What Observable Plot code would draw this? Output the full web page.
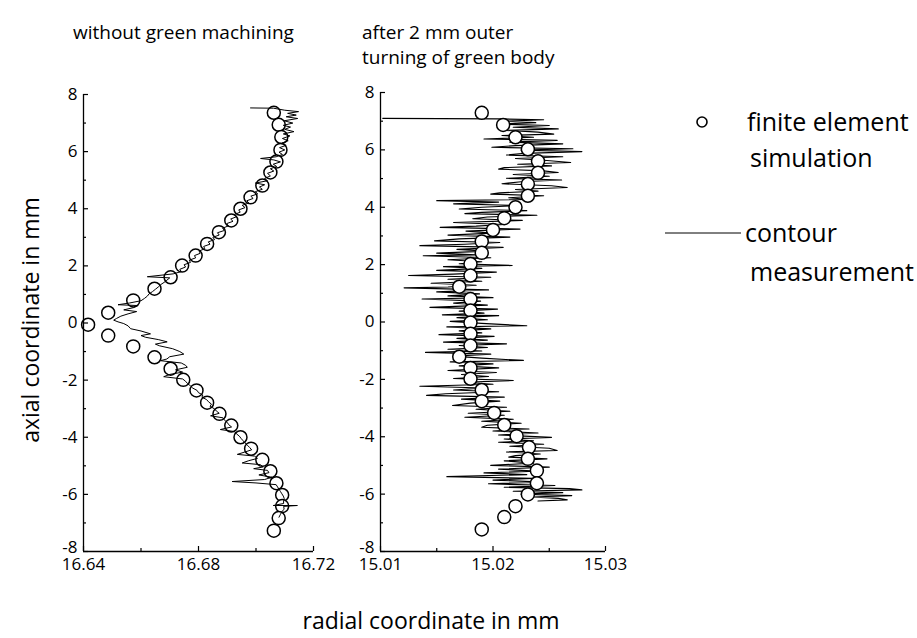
<!DOCTYPE html>
<html><head><meta charset="utf-8">
<script src="https://cdn.jsdelivr.net/npm/d3@7"></script>
<script src="https://cdn.jsdelivr.net/npm/@observablehq/plot@0.6"></script>
<style>
body{margin:0;background:#fff;}
#chart{position:relative;width:917px;height:638px;font-family:"Open Sans",sans-serif;color:#000;overflow:hidden;}
#chart svg.panel{position:absolute;left:0;top:0;}
.t{position:absolute;white-space:nowrap;line-height:1.2;}
</style></head><body><div id="chart"></div>
<script>
// ---------- data (y = axial coordinate in mm, x = radial coordinate in mm) ----------
const panelTitles = ["without green machining", "after 2 mm outer", "turning of green body"];
const yTickLabels = [-8, -6, -4, -2, 0, 2, 4, 6, 8];
const yMinorTicks = [-7, -5, -3, -1, 1, 3, 5, 7];
const leftXTicks = [16.64, 16.68, 16.72];
const leftXMinor = [16.66, 16.70];
const rightXTicks = [15.01, 15.02, 15.03];
const rightXMinor = [15.015, 15.025];

// finite element simulation, without green machining: [y, x]
const leftSimulation = [
  [7.36,16.7062],[6.94,16.7079],[6.51,16.7088],[6.06,16.7085],[5.65,16.7071],[5.27,16.7050],
  [4.81,16.7022],[4.40,16.6981],[4.00,16.6946],[3.59,16.6914],[3.18,16.6871],[2.77,16.6830],
  [2.36,16.6790],[2.01,16.6743],[1.60,16.6703],[1.20,16.6647],[0.79,16.6573],[0.36,16.6486],
  [-0.06,16.6416],
  [-0.44,16.6486],[-0.82,16.6573],[-1.20,16.6647],[-1.60,16.6703],[-1.99,16.6747],[-2.36,16.6793],
  [-2.79,16.6830],[-3.18,16.6873],[-3.59,16.6914],[-4.00,16.6946],[-4.40,16.6983],[-4.79,16.7022],
  [-5.19,16.7050],[-5.61,16.7071],[-6.02,16.7091],[-6.41,16.7091],[-6.83,16.7079],[-7.27,16.7062]
];

// contour measurement, without green machining: [y, x]
const leftContour = [
  [7.53,16.6981],[7.52,16.7061],[7.45,16.7100],[7.40,16.7148],[7.34,16.7110],[7.28,16.7140],
  [7.22,16.7105],[7.16,16.7145],[7.08,16.7098],[7.00,16.7128],[6.92,16.7095],[6.86,16.7120],
  [6.78,16.7100],[6.70,16.7132],[6.62,16.7095],[6.55,16.7118],[6.46,16.7092],[6.38,16.7112],
  [6.30,16.7090],[6.22,16.7105],[6.14,16.7082],[6.06,16.7100],[5.98,16.7080],[5.90,16.7092],
  [5.82,16.7070],[5.76,16.7016],[5.71,16.7062],[5.64,16.7085],[5.56,16.7060],[5.48,16.7072],
  [5.40,16.7050],[5.32,16.7062],[5.24,16.7040],[5.15,16.7050],[5.06,16.7030],[4.98,16.7040],
  [4.90,16.6998],[4.84,16.7030],[4.76,16.7012],[4.68,16.7022],[4.60,16.6998],[4.52,16.7006],
  [4.44,16.6982],[4.36,16.6990],[4.28,16.6968],[4.20,16.6975],[4.12,16.6952],[4.04,16.6962],
  [3.96,16.6940],[3.88,16.6945],[3.80,16.6925],[3.72,16.6932],[3.64,16.6912],[3.56,16.6920],
  [3.48,16.6898],[3.40,16.6904],[3.32,16.6884],[3.24,16.6890],[3.16,16.6866],[3.08,16.6872],
  [3.00,16.6850],[2.92,16.6856],[2.84,16.6834],[2.76,16.6840],[2.68,16.6818],[2.60,16.6822],
  [2.52,16.6802],[2.44,16.6806],[2.36,16.6786],[2.28,16.6790],[2.20,16.6768],[2.12,16.6772],
  [2.04,16.6750],[1.96,16.6755],[1.88,16.6735],[1.80,16.6740],[1.72,16.6712],[1.62,16.6622],
  [1.58,16.6700],[1.50,16.6690],[1.42,16.6680],[1.34,16.6668],[1.26,16.6660],[1.18,16.6650],
  [1.10,16.6640],[1.02,16.6628],[0.94,16.6622],[0.86,16.6612],[0.78,16.6600],[0.70,16.6560],
  [0.64,16.6520],[0.61,16.6590],[0.54,16.6575],[0.46,16.6540],[0.40,16.6585],[0.32,16.6555],
  [0.24,16.6530],[0.16,16.6515],[0.10,16.6505],[0.04,16.6520],[-0.02,16.6540],[-0.10,16.6555],
  [-0.20,16.6564],[-0.28,16.6600],[-0.38,16.6633],[-0.44,16.6600],[-0.50,16.6616],[-0.58,16.6660],
  [-0.66,16.6691],[-0.74,16.6650],[-0.80,16.6665],[-0.90,16.6710],[-1.00,16.6735],[-1.09,16.6749],
  [-1.18,16.6700],[-1.26,16.6690],[-1.32,16.6668],[-1.40,16.6740],[-1.48,16.6755],[-1.55,16.6761],
  [-1.64,16.6720],[-1.72,16.6745],[-1.80,16.6700],[-1.88,16.6679],[-1.96,16.6745],[-2.04,16.6755],
  [-2.12,16.6762],[-2.20,16.6772],[-2.28,16.6780],[-2.36,16.6795],[-2.44,16.6800],[-2.52,16.6815],
  [-2.60,16.6812],[-2.68,16.6828],[-2.76,16.6835],[-2.84,16.6845],[-2.92,16.6840],[-3.00,16.6855],
  [-3.08,16.6862],[-3.16,16.6872],[-3.25,16.6842],[-3.32,16.6885],[-3.40,16.6890],[-3.48,16.6900],
  [-3.56,16.6905],[-3.64,16.6915],[-3.73,16.6876],[-3.80,16.6925],[-3.88,16.6932],[-3.96,16.6942],
  [-4.04,16.6948],[-4.12,16.6955],[-4.20,16.6962],[-4.28,16.6970],[-4.36,16.6978],[-4.44,16.6985],
  [-4.52,16.6960],[-4.60,16.6935],[-4.66,16.6995],[-4.74,16.7005],[-4.82,16.6975],[-4.90,16.6952],
  [-4.96,16.7015],[-5.04,16.7025],[-5.10,16.6992],[-5.16,16.7040],[-5.24,16.7045],[-5.32,16.7010],
  [-5.40,16.7055],[-5.48,16.7030],[-5.55,16.6917],[-5.60,16.7000],[-5.66,16.7070],[-5.74,16.7075],
  [-5.82,16.7080],[-5.90,16.7085],[-5.98,16.7090],[-6.06,16.7095],[-6.14,16.7098],[-6.22,16.7096],
  [-6.32,16.7096],[-6.39,16.7060],[-6.39,16.7144],[-6.42,16.7096],[-6.52,16.7098],[-6.60,16.7090],
  [-6.70,16.7085],[-6.80,16.7080]
];

// finite element simulation, after 2 mm outer turning: [y, x]
const rightSimulation = [
  [7.29,15.0190],[6.87,15.0209],[6.44,15.0220],[6.02,15.0231],[5.60,15.0240],[5.20,15.0240],
  [4.81,15.0231],[4.40,15.0231],[4.00,15.0220],[3.62,15.0210],[3.21,15.0200],[2.81,15.0190],
  [2.41,15.0190],[2.02,15.0180],[1.62,15.0180],[1.23,15.0170],[0.80,15.0180],[0.40,15.0180],
  [-0.02,15.0180],
  [-0.41,15.0180],[-0.82,15.0180],[-1.21,15.0170],[-1.60,15.0180],[-1.98,15.0180],[-2.37,15.0190],
  [-2.76,15.0190],[-3.17,15.0201],[-3.59,15.0210],[-3.98,15.0221],[-4.37,15.0232],[-4.77,15.0231],
  [-5.18,15.0239],[-5.62,15.0239],[-6.01,15.0231],[-6.42,15.0220],[-6.80,15.0210],[-7.23,15.0190]
];

// contour measurement, after 2 mm outer turning: [y, x]
const rightContour = [
  [7.10,15.0102],[7.08,15.0204],[7.05,15.0245],[7.00,15.0212],[6.95,15.0238],[6.90,15.0205],
  [6.85,15.0250],[6.79,15.0218],[6.73,15.0258],[6.68,15.0212],[6.62,15.0240],[6.55,15.0254],
  [6.50,15.0208],[6.44,15.0236],[6.38,15.0192],[6.33,15.0257],[6.27,15.0215],[6.21,15.0262],
  [6.15,15.0220],[6.09,15.0199],[6.04,15.0271],[5.99,15.0225],[5.94,15.0279],[5.88,15.0228],
  [5.82,15.0212],[5.76,15.0262],[5.70,15.0220],[5.63,15.0248],[5.56,15.0269],[5.50,15.0222],
  [5.44,15.0252],[5.38,15.0210],[5.33,15.0205],[5.27,15.0245],[5.21,15.0258],[5.14,15.0218],
  [5.08,15.0250],[5.01,15.0212],[4.95,15.0261],[4.89,15.0225],[4.82,15.0208],[4.75,15.0252],
  [4.69,15.0266],[4.62,15.0220],[4.56,15.0240],[4.50,15.0206],[4.46,15.0198],[4.40,15.0245],
  [4.33,15.0214],[4.27,15.0232],[4.23,15.0150],[4.18,15.0205],[4.12,15.0165],[4.06,15.0224],
  [4.00,15.0190],[3.94,15.0170],[3.88,15.0230],[3.82,15.0190],[3.78,15.0175],[3.72,15.0239],
  [3.66,15.0195],[3.60,15.0182],[3.54,15.0226],[3.47,15.0165],[3.40,15.0210],[3.34,15.0185],
  [3.30,15.0153],[3.24,15.0224],[3.17,15.0176],[3.10,15.0200],[3.03,15.0160],[2.96,15.0215],
  [2.90,15.0170],[2.83,15.0148],[2.77,15.0206],[2.71,15.0175],[2.66,15.0135],[2.60,15.0209],
  [2.53,15.0168],[2.47,15.0195],[2.40,15.0150],[2.34,15.0185],[2.31,15.0138],[2.24,15.0198],
  [2.17,15.0160],[2.10,15.0190],[2.03,15.0170],[1.97,15.0217],[1.93,15.0156],[1.87,15.0190],
  [1.80,15.0150],[1.74,15.0203],[1.67,15.0165],[1.62,15.0125],[1.56,15.0198],[1.49,15.0160],
  [1.42,15.0190],[1.35,15.0145],[1.28,15.0185],[1.22,15.0160],[1.19,15.0121],[1.12,15.0196],
  [1.05,15.0150],[0.98,15.0188],[0.91,15.0160],[0.85,15.0200],[0.80,15.0137],[0.73,15.0189],
  [0.66,15.0165],[0.59,15.0195],[0.51,15.0144],[0.45,15.0204],[0.38,15.0170],[0.31,15.0192],
  [0.25,15.0155],[0.22,15.0205],[0.15,15.0168],[0.08,15.0195],[0.02,15.0162],[-0.05,15.0190],
  [-0.13,15.0230],[-0.17,15.0159],[-0.24,15.0198],[-0.31,15.0170],[-0.38,15.0190],[-0.44,15.0152],
  [-0.50,15.0201],[-0.57,15.0168],[-0.63,15.0195],[-0.70,15.0156],[-0.76,15.0212],[-0.82,15.0170],
  [-0.89,15.0195],[-0.95,15.0160],[-1.01,15.0190],[-1.06,15.0140],[-1.12,15.0198],[-1.19,15.0165],
  [-1.26,15.0190],[-1.34,15.0227],[-1.39,15.0162],[-1.46,15.0200],[-1.53,15.0170],[-1.60,15.0205],
  [-1.69,15.0160],[-1.76,15.0203],[-1.83,15.0172],[-1.90,15.0196],[-1.97,15.0165],[-2.04,15.0218],
  [-2.10,15.0175],[-2.17,15.0200],[-2.24,15.0135],[-2.30,15.0192],[-2.37,15.0165],[-2.43,15.0205],
  [-2.50,15.0158],[-2.56,15.0141],[-2.62,15.0210],[-2.69,15.0172],[-2.76,15.0206],[-2.83,15.0180],
  [-2.91,15.0164],[-2.97,15.0212],[-3.04,15.0185],[-3.11,15.0215],[-3.18,15.0178],[-3.25,15.0210],
  [-3.32,15.0175],[-3.39,15.0218],[-3.46,15.0190],[-3.53,15.0225],[-3.60,15.0195],[-3.67,15.0190],
  [-3.73,15.0232],[-3.80,15.0200],[-3.87,15.0240],[-3.94,15.0205],[-4.02,15.0252],[-4.08,15.0210],
  [-4.14,15.0236],[-4.19,15.0205],[-4.26,15.0245],[-4.33,15.0215],[-4.40,15.0250],[-4.48,15.0257],
  [-4.53,15.0212],[-4.60,15.0242],[-4.66,15.0220],[-4.71,15.0214],[-4.77,15.0248],[-4.84,15.0210],
  [-4.92,15.0236],[-5.00,15.0198],[-5.06,15.0250],[-5.13,15.0205],[-5.20,15.0238],[-5.26,15.0192],
  [-5.32,15.0230],[-5.39,15.0159],[-5.45,15.0235],[-5.51,15.0200],[-5.58,15.0245],[-5.64,15.0196],
  [-5.70,15.0255],[-5.76,15.0210],[-5.81,15.0268],[-5.85,15.0279],[-5.90,15.0218],[-5.95,15.0262],
  [-6.00,15.0225],[-6.05,15.0270],[-6.10,15.0235],[-6.15,15.0258],[-6.20,15.0266],[-6.24,15.0240]
];

const legendLabels = [["finite element", "simulation"], ["contour", "measurement"]];
const axisLabels = {y: "axial coordinate in mm", x: "radial coordinate in mm"};

// ---------- drawing ----------
const FONT = '"Open Sans", sans-serif';
const chart = document.getElementById("chart");
const W = 917, H = 600, BOTTOM = 551;

function panel({xDomain, xTicks, xMinor, simulation, contour, top, left, right, lineOnTop, lineWidth}) {
  const frameW = right - left, frameH = BOTTOM - top;
  const dots = Plot.dot(simulation, {x: d => d[1], y: d => d[0], r: 6.5, stroke: "#000", strokeWidth: 1.5, fill: "#fff"});
  const line = Plot.line(contour, {x: d => d[1], y: d => d[0], stroke: "#000", strokeWidth: lineWidth, curve: "linear"});
  const svg = Plot.plot({
    width: W, height: H,
    marginLeft: left, marginRight: W - right, marginTop: top, marginBottom: H - BOTTOM,
    x: {domain: xDomain},
    y: {domain: [-8, 8]},
    style: {fontFamily: FONT, fontSize: "17px", background: "transparent", color: "#000", overflow: "visible"},
    marks: [
      lineOnTop ? dots : line,
      lineOnTop ? line : dots,
      Plot.ruleX([xDomain[0]], {stroke: "#000", strokeWidth: 1.3}),
      Plot.ruleY([-8], {stroke: "#000", strokeWidth: 1.3}),
      Plot.tickY(yTickLabels, {y: d => d, insetRight: frameW - 5, stroke: "#000", strokeWidth: 1.2}),
      Plot.tickY(yMinorTicks, {y: d => d, insetRight: frameW - 3, stroke: "#000", strokeWidth: 1.2}),
      Plot.tickX(xTicks, {x: d => d, insetTop: frameH - 5, stroke: "#000", strokeWidth: 1.2}),
      Plot.tickX(xMinor, {x: d => d, insetTop: frameH - 3, stroke: "#000", strokeWidth: 1.2}),
      Plot.axisY({ticks: yTickLabels.slice(1), tickSize: 0, tickPadding: 6, label: null, fontSize: 17, tickFormat: d => String(d)}),
      Plot.axisY({ticks: yTickLabels.slice(0, 1), tickSize: 0, tickPadding: 6, label: null, fontSize: 17, dy: -4, tickFormat: d => String(d)}),
      Plot.axisX({ticks: xTicks, tickSize: 0, tickPadding: 6, label: null, fontSize: 17, tickFormat: d => d.toFixed(2)})
    ]
  });
  svg.classList.add("panel");
  chart.appendChild(svg);
}

panel({xDomain: [16.64, 16.72], xTicks: leftXTicks, xMinor: leftXMinor,
  simulation: leftSimulation, contour: leftContour, top: 94, left: 83, right: 313, lineOnTop: true, lineWidth: 1});
panel({xDomain: [15.01, 15.03], xTicks: rightXTicks, xMinor: rightXMinor,
  simulation: rightSimulation, contour: rightContour, top: 92, left: 380, right: 605, lineOnTop: false, lineWidth: 1.15});

function text(str, x, y, size, opts = {}) {
  const d = document.createElement("div");
  d.className = "t";
  d.textContent = str;
  d.style.fontSize = size + "px";
  d.style.left = x + "px";
  d.style.top = y + "px";
  let tf = opts.anchor === "middle" ? "translate(-50%,-50%)" : "translate(0,-50%)";
  if (opts.rotate) tf += " rotate(" + opts.rotate + "deg)";
  d.style.transform = tf;
  chart.appendChild(d);
  return d;
}

text(panelTitles[0], 73, 32, 19);
text(panelTitles[1], 362, 32, 19);
text(panelTitles[2], 362, 57, 19);

// legend
const ns = "http://www.w3.org/2000/svg";
const lg = document.createElementNS(ns, "svg");
lg.setAttribute("width", W); lg.setAttribute("height", 638);
lg.style.position = "absolute"; lg.style.left = "0"; lg.style.top = "0";
const c = document.createElementNS(ns, "circle");
c.setAttribute("cx", 702); c.setAttribute("cy", 122); c.setAttribute("r", 5);
c.setAttribute("fill", "none"); c.setAttribute("stroke", "#000"); c.setAttribute("stroke-width", 1.6);
lg.appendChild(c);
const l = document.createElementNS(ns, "line");
l.setAttribute("x1", 665); l.setAttribute("x2", 741); l.setAttribute("y1", 233); l.setAttribute("y2", 233);
l.setAttribute("stroke", "#000"); l.setAttribute("stroke-width", 1);
lg.appendChild(l);
chart.appendChild(lg);

text(legendLabels[0][0], 747, 121, 25);
text(legendLabels[0][1], 750, 157, 25);
text(legendLabels[1][0], 745, 232, 25);
text(legendLabels[1][1], 750, 271, 25);

text(axisLabels.y, 31, 320, 23, {anchor: "middle", rotate: -90});
text(axisLabels.x, 431, 621, 23, {anchor: "middle"});
</script>
</body></html>
